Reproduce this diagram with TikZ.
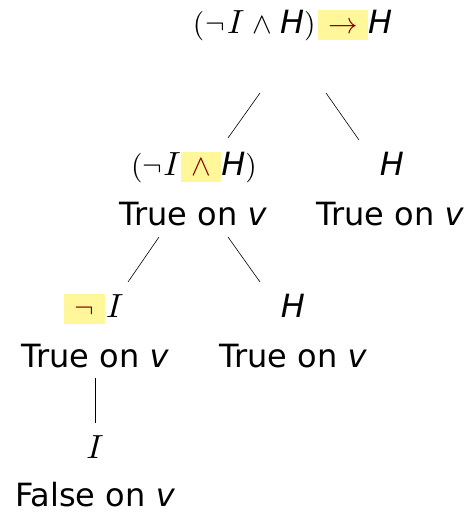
\RequirePackage{fix-cm}
\documentclass[tikz,border=0pt]{standalone}
\usepackage[no-math]{fontspec}
\usepackage{graphicx}
\setmainfont{DejaVu Sans}
\usetikzlibrary{calc}
\definecolor{hlyellow}{HTML}{FFF799}
\definecolor{hlred}{HTML}{800000}
\newcommand{\symb}[1]{\scalebox{2.95}{\fontsize{10}{10}\selectfont$#1$}}
\newcommand{\vI}{\scalebox{3.35}{\fontsize{10}{10}\selectfont$I$}}
\newcommand{\vH}{{\itshape H}}
\newcommand{\vv}{{\itshape v}}
\newcommand{\hlb}[1]{{\setlength{\fboxsep}{0pt}\colorbox{hlyellow}{\hspace{10.5pt}\rule[-7pt]{0pt}{30pt}\color{hlred}\symb{#1}\hspace{10.5pt}}}}
\tikzset{
  lab/.style={anchor=base, inner sep=0pt, font=\fontsize{32}{32}\selectfont},
  edge/.style={draw=black, line width=0.6pt}
}
\begin{document}
\begin{tikzpicture}[x=1pt,y=-1pt]
\path[use as bounding box] (0,0) rectangle (472,512);
% formulas
\node[lab] (root) at (292.5,33) {\symb{(}\hspace{1pt}\symb{\neg}\hspace{2pt}\vI\hspace{8pt}\symb{\wedge}\hspace{8pt}\vH\symb{)}\hspace{2pt}\hlb{\rightarrow}\vH};
\node[lab] (lf) at (194,175) {\symb{(}\symb{\neg}\hspace{1pt}\vI\hlb{\wedge}\vH\symb{)}};
\node[lab] (lt) at (193,225) {True on \vv};
\node[lab] (rf) at (392,175) {\vH};
\node[lab] (rt) at (390,225) {True on \vv};
\node[lab] (llf) at (94,317) {\hlb{\neg}\hspace{1pt}\vI};
\node[lab] (llt) at (95,367) {True on \vv};
\node[lab] (lrf) at (293,317) {\vH};
\node[lab] (lrt) at (293,367) {True on \vv};
\node[lab] (lllf) at (95,458) {\vI};
\node[lab] (lllt) at (95,506) {False on \vv};
% connectors
\draw[edge] ($(root.base)+(-32.5,60)$) -- ($(lf.base)+(34,-37)$);
\draw[edge] ($(root.base)+(33.5,60)$) -- ($(rf.base)+(-33,-35)$);
\draw[edge] ($(lt.base)+(-34,12)$) -- ($(llf.base)+(34,-35)$);
\draw[edge] ($(lt.base)+(35,12)$) -- ($(lrf.base)+(-33,-35)$);
\draw[edge] ($(llt.base)+(0,11)$) -- ($(lllf.base)+(0,-35)$);
\end{tikzpicture}
\end{document}
